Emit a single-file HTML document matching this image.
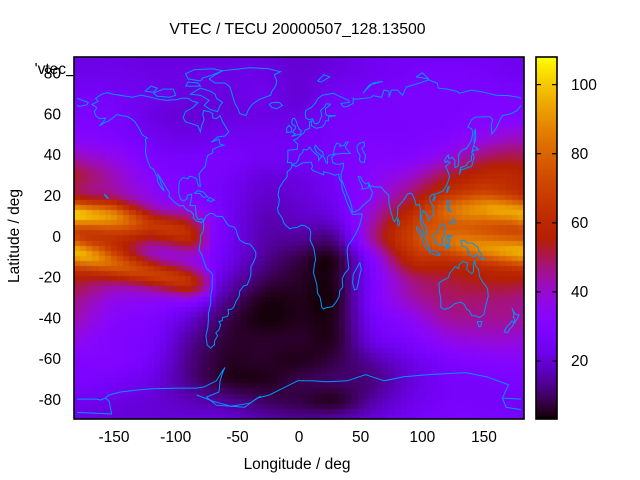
<!DOCTYPE html>
<html><head><meta charset="utf-8">
<style>
html,body{margin:0;padding:0;background:#fff;}
#wrap{position:relative;width:640px;height:480px;overflow:hidden;background:#fff;}
canvas,svg{position:absolute;left:0;top:0;}
text{font-family:"Liberation Sans",Arial,sans-serif;fill:#000;}
</style></head>
<body>
<div id="wrap">
<canvas id="c" width="640" height="480"></canvas>
<svg id="s" width="640" height="480" viewBox="0 0 640 480">
<defs><clipPath id="pc"><rect x="74" y="57" width="450" height="362"/></clipPath></defs>
<g id="coast" clip-path="url(#pc)" fill="none" stroke="#0096ff" stroke-width="1"></g>
<rect x="74" y="57" width="450" height="362" fill="none" stroke="#000" stroke-width="1.6"/>
<rect x="536" y="57" width="21" height="362" fill="none" stroke="#000" stroke-width="1.6"/>
<g stroke="#000" stroke-width="1.2">
<line x1="536" y1="84.6" x2="541" y2="84.6"/><line x1="552" y1="84.6" x2="557" y2="84.6"/>
<line x1="536" y1="153.7" x2="541" y2="153.7"/><line x1="552" y1="153.7" x2="557" y2="153.7"/>
<line x1="536" y1="222.8" x2="541" y2="222.8"/><line x1="552" y1="222.8" x2="557" y2="222.8"/>
<line x1="536" y1="291.9" x2="541" y2="291.9"/><line x1="552" y1="291.9" x2="557" y2="291.9"/>
<line x1="536" y1="361" x2="541" y2="361"/><line x1="552" y1="361" x2="557" y2="361"/>
<line x1="66" y1="75.6" x2="74" y2="75.6"/>
</g>
<text x="297.5" y="34" text-anchor="middle" font-size="15.8">VTEC / TECU 20000507_128.13500</text>
<text x="66" y="74" text-anchor="end" font-size="15.5">'vtec</text>
<g font-size="15.5" text-anchor="end">
<text x="61" y="78.6">80</text>
<text x="61" y="119.4">60</text>
<text x="61" y="160.2">40</text>
<text x="61" y="200.9">20</text>
<text x="61" y="241.8">0</text>
<text x="61" y="282.6">-20</text>
<text x="61" y="323.4">-40</text>
<text x="61" y="364.2">-60</text>
<text x="61" y="405">-80</text>
</g>
<g font-size="15.5" text-anchor="middle">
<text x="114" y="442">-150</text>
<text x="175.7" y="442">-100</text>
<text x="237.4" y="442">-50</text>
<text x="299" y="442">0</text>
<text x="360.6" y="442">50</text>
<text x="422.3" y="442">100</text>
<text x="484" y="442">150</text>
</g>
<g font-size="15.5" text-anchor="start">
<text x="571" y="90">100</text>
<text x="571" y="159">80</text>
<text x="571" y="228">60</text>
<text x="571" y="297">40</text>
<text x="571" y="366">20</text>
</g>
<text x="297" y="469" text-anchor="middle" font-size="15.5">Longitude / deg</text>
<text transform="translate(19,236) rotate(-90)" text-anchor="middle" font-size="15.5">Latitude / deg</text>
</svg>
</div>
<script>
(function(){
var ctx=document.getElementById('c').getContext('2d');
var CMIN=3.2,CMAX=108;
function pal(v){var x=(v-CMIN)/(CMAX-CMIN);if(x<0)x=0;if(x>1)x=1;
 var r=Math.sqrt(x),g=x*x*x,b=Math.sin(2*Math.PI*x);if(b<0)b=0;
 return 'rgb('+Math.round(r*255)+','+Math.round(g*255)+','+Math.round(b*255)+')';}
var G=[
[22,22,21,21,21,21,19,21,24,25,25,25,23],
[23,23,22,22,22,22,20,22,24,26,27,26,24],
[26,25,23,21,21,23,20,25,26,28,28,28,28],
[28,27,22,20,21,22,22,26,27,28,28,30,30],
[32,29,24,22,24,24,24,27,28,28,30,36,40],
[42,36,28,26,27,25,25,27,30,31,38,48,50],
[52,42,32,28,26,21,22,26,33,40,52,60,58],
[46,44,36,30,25,19,20,25,36,50,61,65,56],
[60,52,38,42,26,17,18,22,42,62,68,71,53],
[55,58,44,40,26,16,14,14,45,68,68,64,61],
[60,48,36,36,24,14,8,6,32,60,60,57,56],
[54,45,39,36,20,10,6,6,28,47,52,55,54],
[46,37,34,28,14,5,5,5,28,42,48,48,46],
[42,32,29,20,9,4,5,6,25,34,44,45,44],
[36,30,27,15,7,6,6,6,22,28,36,39,38],
[30,30,25,13,6,6,5,8,15,22,28,31,32],
[28,26,22,13,6,5,8,10,12,20,26,27,28],
[24,22,20,17,14,10,8,6,15,22,26,26,25],
[22,20,20,20,20,16,14,16,20,25,28,28,26]];
function cr(p0,p1,p2,p3,t){return 0.5*((2*p1)+(-p0+p2)*t+(2*p0-5*p1+4*p2-p3)*t*t+(-p0+3*p1-3*p2+p3)*t*t*t);}
function gv(r,c){if(r<0)r=0;if(r>18)r=18;if(c<0)c+=12;if(c>12)c-=12;return G[r][c];}
function grid(lon,lat){var c=(lon+180)/30,r=(90-lat)/10;
 if(c<0)c=0;if(c>12)c=12;if(r<0)r=0;if(r>18)r=18;
 var c0=Math.min(11,Math.floor(c)),r0=Math.min(17,Math.floor(r)),fc=c-c0,fr=r-r0;
 var rows=[];
 for(var i=-1;i<=2;i++){rows.push(cr(gv(r0+i,c0-1),gv(r0+i,c0),gv(r0+i,c0+1),gv(r0+i,c0+2),fc));}
 return cr(rows[0],rows[1],rows[2],rows[3],fr);}
var NT=[[-180,42,12],[-150,38,10.5],[-120,26,7],[-90,21,1.5],[-78,14,0],[-71,0,0],[60,0,12],[90,0,12],[120,15,14],[150,22,15],[180,42,12]];
var ST=[[-180,38,-7],[-150,33,-12.5],[-120,31,-17],[-90,28,-22],[-76,20,-23],[-68,0,-23],[60,0,-2],[90,0,-1],[120,15,-2],[150,30,-5],[180,38,-7]];
function tab(T,lon){for(var i=0;i<T.length-1;i++){if(lon>=T[i][0]&&lon<=T[i+1][0]){var f=(lon-T[i][0])/(T[i+1][0]-T[i][0]);
 return [T[i][1]+(T[i+1][1]-T[i][1])*f,T[i][2]+(T[i+1][2]-T[i][2])*f];}}return [0,0];}
function V(lon,lat){var v=grid(lon,lat);var n=tab(NT,lon),s=tab(ST,lon);
 v+=n[0]*Math.exp(-Math.pow((lat-n[1])/5,2)/2);v+=s[0]*Math.exp(-Math.pow((lat-s[1])/5,2)/2);
 if(v<4)v=4;return v;}
var SX=450/365,SY=362/177.5,CX=299,CY=238;
function X(l){return CX+l*SX;}function Y(l){return CY-l*SY;}
for(var lon=-180;lon<=180;lon+=5){
 var x0=Math.round(X(lon-2.5)),x1=Math.round(X(lon+2.5));if(x0<74)x0=74;if(x1>524)x1=524;
 for(var k=-35;k<=35;k++){var lat=k*2.5;
  var y0=Math.round(Y(lat+1.25)),y1=Math.round(Y(lat-1.25));if(y0<57)y0=57;if(y1>419)y1=419;
  ctx.fillStyle=pal(V(lon,lat));ctx.fillRect(x0,y0,x1-x0,y1-y0);}}
for(var y=57;y<419;y++){var v=CMAX-(y+0.5-57)/362*(CMAX-CMIN);ctx.fillStyle=pal(v);ctx.fillRect(536,y,21,1);}
var C=[
[-165,60,-166,62,-164,64,-168,65.5,-163,67,-165,68.5,-160,70.5,-156,71.3,-150,70.4,-141,69.6,-135,69,-128,70,-120,69,-114,68,-108,67.5,-100,67.8,-95,68.5,-90,68.5,-86,67,-82,66.5,-86,64,-92,62,-94,59,-92,57,-87,56,-82,55,-80,52,-79,55,-77,58,-78,60.5,-77.5,62.5,-73,62,-70,61,-70,59,-67,58.5,-64,60,-62,57,-60,55,-57,52,-60,50,-66,49.5,-71,47,-65,48.5,-64,46,-61,45.5,-66,44.5,-70,43.5,-70,41.7,-74,40.5,-75,38.5,-76,35,-78,33.8,-81,31.5,-80.5,28,-80,25.3,-81.5,25.5,-82.5,27.5,-83,29,-85,29.7,-89,30.3,-90,29,-94,29.7,-97,27.8,-97.5,25,-97.5,22,-96,19,-94,18.2,-91,19,-90.5,21,-87,21.5,-87.5,18.5,-88.5,16,-84,15.8,-83.5,12,-83.5,10.8,-81.7,9,-79,9.5,-77.5,8.5,-79.5,7.5,-80.5,8,-83,8.2,-85.7,10,-85.5,11.5,-87.5,13,-91,13.8,-94,16,-96.5,15.7,-101,17.5,-105.5,20.5,-105,22,-106.5,23.5,-109,26,-112.5,29.5,-114.8,31.5,-113,29,-112,27,-110,24,-109.5,23,-112,24.8,-114.5,27.5,-115,29.8,-117,32.5,-118.5,34,-120.6,34.6,-122.5,37.5,-124,40.5,-124.5,43,-124,46,-124.7,48.3,-123,49,-127,50.5,-130,54,-133,57,-136,58.5,-140,59.7,-144,60,-148,60.5,-151,59,-154,57.5,-158,56.5,-162,55,-158,57.5,-157,58.8,-162,58.6,-165,60],
[-73,78,-68,76,-60,76,-56,74,-54,70,-52,66,-50,64,-48,61,-43,60,-41,63,-38,65.5,-32,68,-23,70,-22,72,-19,74.5,-18,77,-20,80,-15,81.5,-25,83,-40,83.5,-55,82.5,-62,82,-68,80,-73,78],
[-80,73.5,-72,72,-68,70.5,-67,68.5,-62,66.5,-64,65,-66,62,-72,63,-77,65,-73,67.5,-80,70,-88,70.5,-80,73.5],
[-80,77,-90,78,-92,80.5,-85,82.5,-70,83,-62,82,-70,80,-78,78.5,-80,77],
[-118,71,-110,73,-102,73,-100,70,-105,69,-115,69.5,-118,71],
[-125,72,-120,74.5,-115,73.5,-118,71.5,-125,72],
[-92,74.5,-80,74.5,-82,76,-90,76.5,-92,74.5],
[-77.5,8.5,-75,11,-72,12,-70,12,-67,10.7,-62,10.5,-60,8.5,-57,6,-53,5.5,-51,4,-50,1.5,-48,-1,-44,-2.5,-40,-3,-37,-5,-35,-7,-35,-9,-37,-12,-39,-14,-39,-18,-40,-20,-42,-23,-45,-23.5,-48,-26,-48.5,-28.5,-51,-31,-53,-34,-55,-35,-57.5,-35,-57,-37,-58,-38.5,-62,-39,-62.3,-40.5,-65,-41,-63.5,-42.5,-65,-45,-67.5,-46.5,-66,-48,-68.5,-50.5,-68.5,-52.3,-70,-53,-71.5,-54,-74.5,-52.5,-75.5,-48,-74,-44,-73.5,-40,-73.5,-37,-71.5,-32,-71.5,-28,-70.5,-25,-70.3,-18,-71,-17,-75,-15,-76.5,-12.5,-79,-8,-81,-6,-80.5,-3.5,-80,-1,-80,1,-78.5,2.5,-77.5,4,-77.3,7,-77.5,8.5],
[-17,21,-16,24.5,-13,27.5,-9.7,30,-9.5,32.5,-6.5,34,-5.5,35.8,-2,35.1,3,36.8,10,37.2,11,35,10,34,11,33.2,15,32.2,20,31,20,32.5,25,31.7,29,30.8,32,31.3,32.5,30,33,28.5,34.5,28,35,24,37,21,38.5,18,42,13.5,43.3,11.5,51,11.8,51,10.5,49,6,46,2,43,-1,40,-3.5,39,-6,39.5,-10,40.5,-15,37,-17.5,35,-20,35.5,-24,33,-26,32.5,-28.8,30,-31.5,27,-33.7,22,-34.2,20,-34.8,18.4,-34,18,-32,17,-29,15,-27,14.5,-23,11.8,-17,12.5,-13,13.5,-10.5,13,-8.5,12,-5,9,-1,9.5,3,8.5,4.5,5,6,2,6.3,-2,5,-5,5,-7.5,4.5,-12,7,-13.5,9.5,-15,11,-16.8,12.5,-17.5,14.7,-16.5,16,-16,19,-17,21],
[49.3,-12,50.5,-15.5,49.5,-17.5,48,-22,47,-25,45,-25.5,43.5,-22,44,-18,46,-15.7,48,-13.5,49.3,-12],
[180,65,177,62.5,172,61,165,60,163,58,162,56.5,160,54,156.5,51,156,55,157,58,155,59.5,150,59.5,143,59.3,140,58,137,54.5,140,53.5,141,52,140,48,136,44,132,43,129.5,41,129.5,37,129,35.2,126.5,34.5,126.3,36.5,126.5,38,124.7,39.5,121.5,39,121,40.8,119,39.2,118,38,119,37,120.5,37.8,122.5,37,119,35,120.5,33,121.8,31,122,29.5,119.5,25.5,116.5,23,113,22,110,21.5,110,20.3,109.7,21.5,108,21.5,106,20,106.5,18,109,15,109,11.5,106.5,9.5,105,8.7,104.8,10.5,102,12.5,100.5,13.5,100,12,99,10,100.3,8.3,101,6.8,103,5.5,103.5,1.5,101.5,2.5,100.5,4.5,98.5,8,98.5,10,98.5,14,97.5,16.5,95,16,94,18.5,92,21.5,90,22,88,21.5,86.5,20,84,18,82,16.5,80.3,15.5,80,13,79.8,10.5,77.5,8,76.5,8.8,74.5,13,73,17,72.8,21,70,22.5,68.5,23.5,66.7,25,62,25,57.5,25.6,56.5,27.2,54,26.6,51.5,27.9,50,30,48,30,50,27,51.5,25,51,24,56,24.5,56.5,26.2,58.7,23.5,59.8,22.5,57.8,19,55.5,17.8,52,16,49,14,45,12.8,43.3,12.7,42.7,15.5,41,19,39,21.5,37,25,35,28,34,27.8,34.3,29.5,34,31.3,35,33,36,35,36,36.7,33,36.2,30,36.2,27.3,37,26.5,39.5,29,41,28,42,29,44.5,30.5,46.5,33.5,46,33,45,36.5,45.3,38,47,39.8,47,37.5,44.5,41.5,41.5,36,41.5,31,41.2,29,41,26,40.8,24,40.5,23,39.5,23,36.5,22,37,21,38.5,19.5,40.5,19.5,42,16,43.5,13.5,45.5,12.5,44.5,14,42.3,16,41.3,18.5,40,17,39,16,38,15.7,40,12.5,41.8,10.5,43,8.5,44.5,6.5,43.1,3.5,43.5,3,42,0.5,40.5,-0.5,38.5,-2,36.8,-5.5,36,-6.5,37,-8.5,37,-9.5,37,-9,39,-9,43,-1.5,43.5,-1,46,-4.5,48,-1.5,48.7,1.5,50.5,4,51.5,5,53,8.5,53.7,8.5,57,10.5,57.5,10,55,12.5,54.3,14,53.8,19,54.5,21,56,21.5,57.5,24,57.5,24,59.5,30,60,22.5,60,21.5,61.5,21.5,63.5,25,65,25.5,65.6,22,65.8,21,64.5,17.5,62.5,18.5,60,16.5,57,14.5,56,12.5,56.2,11,58.5,8,58,5.5,58.8,5,61,5.5,62.5,10,64,13,66,15.5,68.5,19,70,23,70.5,28,71,31,70,33,69.5,40,67.5,41,66.5,34,66,36,64.3,39,64.5,44,66,44,68.5,46,68,53,68.5,58,68.8,60,69.8,67,69,69,72.5,73,72,73,69,75,72.5,80,72.5,84,70,87,74,98,76,105,77.5,112,76,113,73.5,120,73,128,72,130,71,140,72.5,150,71.5,160,70,170,69.8,178,69,180,68.5],
[-180,68.5,-175,67.3,-171,66.5,-172,65.3,-178,64.5,-180,65],
[-5,50,1.5,51,1.7,52.7,0,53.5,-1.5,55.5,-2,57,-3.5,58.6,-5,58.6,-6,57,-5.5,55.7,-3,54.8,-3,53.5,-4.5,52.8,-5,51.7,-3,51.2,-5.5,50,-5,50],
[-6,52,-6,54,-8,55.2,-10,54,-10,51.7,-6,52],
[-22,64,-24,65.5,-22,66.4,-16,66.5,-13.5,65,-18,63.4,-22,64],
[130,31,131.5,33.5,135,34,137,34.6,139.8,35,141,37,142,39.5,141.5,41.3,140,40.5,139.8,38,137,37,135.5,35.5,131,34.5,130,31],
[140,41.5,141.5,43,145.5,43.3,144,44.2,141.7,45.5,140,41.5],
[142,46,143.5,49,143,53.5,142,51,142,46],
[120.5,18.5,122.5,18.3,122,14,124,12.5,120.5,14,120,16,120.5,18.5],
[122,7,126,7,126.5,8.5,125,9.5,123.5,8,122,7],
[120,22,121.9,25,121,25.2,120,23.5,120,22],
[109,18.2,111,19.8,110,20.2,108.7,19,109,18.2],
[109,1.5,110,-2,114,-3.5,116.5,-3.5,116,0,118,1,119,5,117,7,116,6.5,113.5,4.5,111,2,109,1.5],
[95.3,5.5,98,4,100,2,103,-1,104.5,-3,106,-5.8,104,-5.5,102,-4,100,-1,98.5,1.5,95.5,4,95.3,5.5],
[105.5,-6.5,108,-6.3,111,-6.5,114.5,-7.7,114,-8.6,110,-8.1,106,-7.3,105.5,-6.5],
[119.5,0,120,1,124.5,1.2,123,0.5,120.5,0.7,121.5,-1,123,-1,121.5,-2,122.5,-4.5,121,-4.7,120.5,-2.8,120,-5.5,119.4,-5.4,119,-3.5,119.5,0],
[131,-1.5,134,-1,136,-2.3,141,-2.6,145,-4.5,146,-6.5,148,-8,150.5,-10.5,147,-10,144,-7.8,142.5,-9.2,141,-9,138,-8.3,138,-6.5,135,-4.3,132.5,-4,132,-2.5,131,-1.5],
[113.5,-22,114,-26.5,115,-30,115,-34,118,-35,123,-34,126,-32.3,131,-31.5,134,-32.5,136,-35,138,-35.5,140,-38,144,-38.3,146.5,-39,150,-37.5,151.5,-33,153.5,-28.5,153,-25,151,-23,149.5,-22,146.5,-19,145.5,-15,143.5,-14,142.5,-10.8,141.5,-13,141.5,-16.5,140,-17.5,136,-15.5,136.8,-12.2,132.5,-11.5,130,-13,129.5,-15,126.5,-14,122.5,-17,121,-19.5,117,-20.7,113.5,-22],
[144.5,-41,148.3,-41,147.5,-43.2,146,-43.5,144.5,-41],
[172.7,-34.5,174.5,-36.5,176,-37.5,178.5,-37.7,177,-39.5,175,-41.5,174.7,-39.5,173.8,-39,174.5,-37,172.7,-34.5],
[172.7,-40.5,174.3,-41.7,172.8,-43.5,171,-44.5,169,-46.5,166.5,-46,168,-44,171,-42,172.7,-40.5],
[80,9.8,81.8,7.5,81,6,80,6.5,80,9.8],
[-85,21.9,-82,23.2,-77.5,22.5,-74.2,20.2,-77.5,19.9,-80.5,21.8,-85,21.9],
[-74.5,18.4,-72.7,19.9,-68.5,18.6,-71,18,-74.5,18.4],
[15,77,20,80,25,79,18,76.5,15,77],
[52,71,57,75,68,76.8,60,76,55,73,52,71],
[95,79,105,78,100,81,95,79],
[47,45,49,46.5,53,47,53,45,51,44,52.5,42,54,40.5,53,37,50,37.3,49,38.5,49.5,40.5,47.5,42.5,47,45],
[-158,21.5,-156,20.5,-155,19.5,-156,19.8,-158,21.5],
[-172.5,-13.5,-171.5,-14,-172.5,-13.5],
[-180,-79,-164,-79,-161,-79.5,-157,-78.5,-154,-77,-145,-75.5,-130,-74.5,-120,-74,-100,-73.6,-83,-73.6,-77,-73,-67,-70,-62,-65,-60,-63.5,-62,-66,-64,-70,-65,-75.5,-75,-78,-67,-82,-55,-82.5,-44,-83,-34,-78.5,-24,-77,-11,-73,-1,-70,10,-70,23,-70.5,39,-70,54,-67,69,-70,85,-68,105,-67,135,-66,152,-68,170,-72,165,-78.5,180,-79],
[165,-78.5,168,-83,178,-84,180,-84.2],
[-180,-85.5,-152,-86.3,-154,-80,-157,-78.5],
[-83,-77,-70,-80,-55,-82.5,-40,-81,-31,-77.5]
];
var h='';
for(var i=0;i<C.length;i++){var a=C[i],p=[];
 for(var j=0;j<a.length;j+=2){p.push(X(a[j]).toFixed(1)+','+Y(a[j+1]).toFixed(1));}
 h+='<polyline points="'+p.join(' ')+'"/>';}
document.getElementById('coast').innerHTML=h;
})();
</script>
</body></html>
